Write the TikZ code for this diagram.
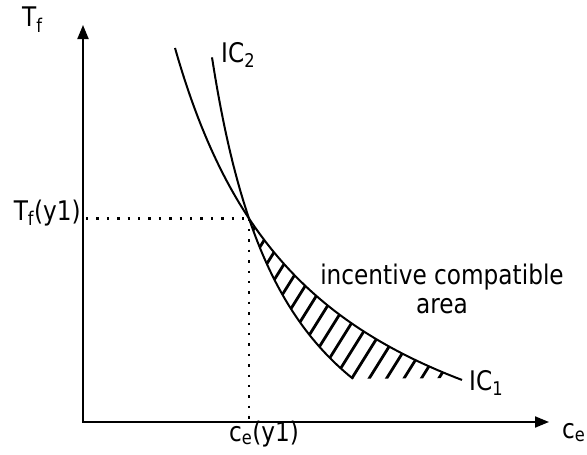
\documentclass[tikz,border=0pt]{standalone}
\usepackage{fontspec}
\setmainfont{DejaVu Sans}[FakeStretch=0.86]
\usepackage{tikz}
\usetikzlibrary{arrows.meta}
\tikzset{
  axis/.style  = {line width=2pt, {Triangle[length=14pt,width=11pt]}-{Triangle[length=14pt,width=11pt]}},
  curve/.style = {line width=2pt},
  guide/.style = {line width=2.4pt, dash pattern=on 2.4pt off 8pt},
  hatch/.style = {line width=2.8pt},
  lbl/.style   = {font=\fontsize{27}{29}\selectfont, inner sep=0pt},
}
% the two indifference curves (y grows downwards)
\def\icone{plot[domain=175:462, samples=90] (\x, {542.7-696.08/((\x-34.3)/100)})}
\def\ictwo{plot[domain=212:353, samples=90] (\x, {555-384.67/((\x-134.7)/100)})}

\begin{document}
\begin{tikzpicture}[x=1pt, y=-1pt]
  \useasboundingbox (0,0) rectangle (587,455);

  \coordinate (O)    at (83,422);
  \coordinate (ytip) at (83,25);
  \coordinate (xtip) at (549,422);
  \coordinate (P)    at (249,218.5);
  \coordinate (Py)   at (86,218.5);
  \coordinate (Px)   at (249,422);

  % hatched area between the curves
  \begin{scope}
    \clip \icone -- (175,380) -- cycle;
    \clip \ictwo -- (600,377) -- (600,0) -- (212,0) -- cycle;
    \foreach \i in {0,...,17}
      \draw[hatch] ({159.4+17.4*\i},380) -- ++(125,-200);
  \end{scope}

  % dotted guides
  \draw[guide] (Py) -- (P);
  \draw[guide] (P) -- (Px);

  % axes
  \draw[axis] (ytip) -- (O) -- (xtip);

  % curves
  \draw[curve] \icone;
  \draw[curve] \ictwo;

  % labels
  \node[lbl, anchor=base west] (Tf)   at (22,27)   {T\textsubscript{f}};
  \node[lbl, anchor=base west] (ce)   at (562,438) {c\textsubscript{e}};
  \node[lbl, anchor=base east] (Tfy)  at (81,220)  {T\textsubscript{f}(y1)};
  \node[lbl, anchor=base]      (cey)  at (264,441) {c\textsubscript{e}(y1)};
  \node[lbl, anchor=base west] (ic1)  at (469,390) {IC\textsubscript{1}};
  \node[lbl, anchor=base west] (ic2)  at (221,62)  {IC\textsubscript{2}};
  \node[lbl, anchor=north, align=center] (area) at (442,264)
    {incentive compatible\\area};
\end{tikzpicture}
\end{document}
